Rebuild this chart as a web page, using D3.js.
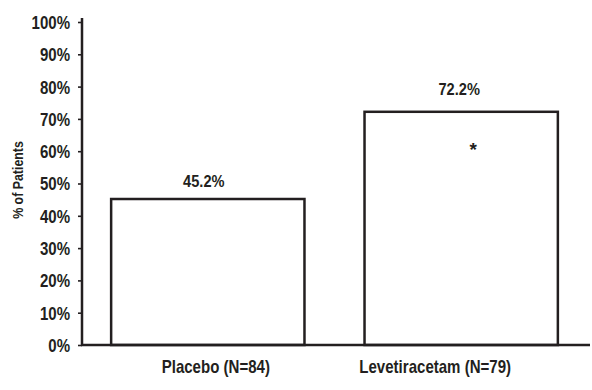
<!DOCTYPE html>
<html><head><meta charset="utf-8">
<script src="https://cdn.jsdelivr.net/npm/d3@7"></script>
<style>
body{margin:0;background:#fff;}
text{font-family:"Liberation Sans",Arial,"Helvetica",sans-serif;font-weight:bold;fill:#231f20;}
</style></head>
<body>
<svg id="c" width="592" height="390"></svg>
<script>
const categories = ["Placebo (N=84)", "Levetiracetam (N=79)"];
const values = [45.2, 72.2];
const valueLabels = ["45.2%", "72.2%"];
const significance = ["", "*"];
const yTicks = [0,10,20,30,40,50,60,70,80,90,100];
const yTitle = "% of Patients";

const svg = d3.select("#c");
const x0 = 82, x1 = 587, yTop = 22, yBot = 345;
const sx = 0.86; // condensed face emulation
const x = d3.scaleBand().domain(categories).range([x0, x1]).paddingInner(0.237).paddingOuter(0.115);
const y = d3.scaleLinear().domain([0,100]).range([yBot, yTop]);
const ink = "#231f20";

function condensed(sel, px, py){
  sel.attr("transform", (d,i)=>`translate(${px(d,i)},${py(d,i)}) scale(${sx},1)`)
     .attr("x",0).attr("y",0);
}

// bars
svg.selectAll("rect.bar").data(values).join("rect")
  .attr("class","bar")
  .attr("x",(d,i)=>x(categories[i]))
  .attr("y",d=>y(d))
  .attr("width",x.bandwidth())
  .attr("height",d=>y(0)-y(d))
  .attr("fill","#fff").attr("stroke",ink).attr("stroke-width",2.5);

// y axis
const ya = svg.append("g").attr("transform",`translate(${x0},0)`)
  .call(d3.axisLeft(y).tickValues(yTicks).tickFormat(d=>d+"%").tickSize(4).tickSizeOuter(0).tickPadding(8));
ya.select(".domain").remove();
svg.append("line").attr("x1",x0).attr("x2",x0).attr("y1",18).attr("y2",yBot)
  .attr("stroke",ink).attr("stroke-width",2.5);
ya.selectAll(".tick line").attr("stroke",ink).attr("stroke-width",1.6);
ya.selectAll(".tick text").style("font-size","17.5px").attr("fill",ink)
  .attr("dy",null).attr("dominant-baseline","central")
  .attr("transform",`scale(${sx},1)`).attr("x",-12/sx);

// x axis baseline
svg.append("line").attr("x1",x0-1).attr("x2",x1+3).attr("y1",y(0)).attr("y2",y(0))
  .attr("stroke",ink).attr("stroke-width",2.6);

// category labels
const labOff = [8,-26];
svg.selectAll("text.cat").data(categories).join("text")
  .attr("class","cat").attr("text-anchor","middle").style("font-size","17.5px").text(d=>d)
  .call(condensed,(d,i)=>x(d)+x.bandwidth()/2+labOff[i],()=>373);

// value labels
const valOff = [-12,-17];
svg.selectAll("text.val").data(values).join("text")
  .attr("class","val").attr("text-anchor","middle").style("font-size","17px").text((d,i)=>valueLabels[i])
  .call(condensed,(d,i)=>x(categories[i])+x.bandwidth()/2+[-4,-2][i],(d,i)=>y(d)+valOff[i]);

// significance star
svg.selectAll("text.sig").data(values).join("text")
  .attr("class","sig").attr("text-anchor","middle").style("font-size","19px").text((d,i)=>significance[i])
  .attr("x",(d,i)=>x(categories[i])+x.bandwidth()/2+12)
  .attr("y",(d,i)=>y(d)+44);

// y title
svg.append("text").attr("transform",`translate(23,180) rotate(-90) scale(0.8,1)`)
  .attr("text-anchor","middle").style("font-size","15.5px").text(yTitle);
</script>
</body></html>
